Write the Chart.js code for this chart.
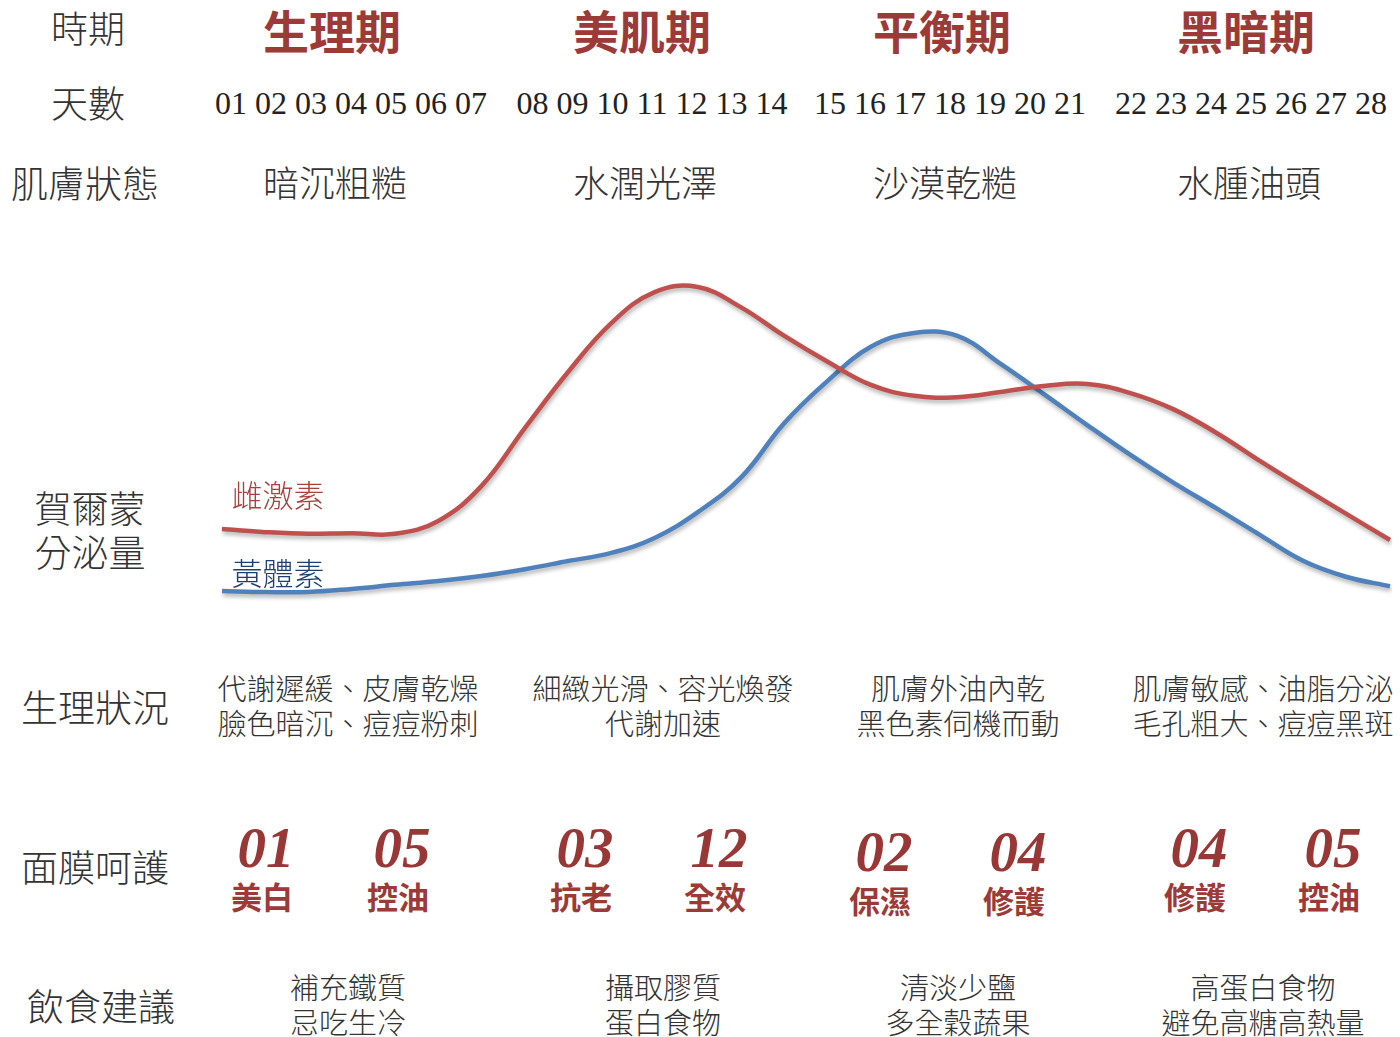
<!DOCTYPE html>
<html>
<head>
<meta charset="utf-8">
<script src="https://cdn.jsdelivr.net/npm/chart.js@4"></script>
<style>
body{margin:0;background:#fff;}
#page{position:relative;width:1400px;height:1037px;background:#fff;overflow:hidden;
font-family:"Noto Sans CJK TC","Noto Sans CJK SC",sans-serif;font-weight:300;color:#333;}
.t{position:absolute;transform:translate(-50%,-50%);white-space:nowrap;line-height:1.2;text-align:center;}
.lab{font-size:37px;}
.phase{font-size:46px;font-weight:700;color:#9c3a38;}
.days{font-family:"Liberation Serif",serif;font-size:32px;font-weight:400;color:#222;}
.skin{font-size:36px;}
.desc{font-size:29px;line-height:35px;}
.num{font-family:"Liberation Serif",serif;font-style:italic;font-weight:700;font-size:57px;color:#983836;}
.mask{font-size:31px;font-weight:700;color:#9c3a38;}
#chartBox{position:absolute;left:212px;top:260px;width:1188px;height:360px;}
</style>
</head>
<body>
<div id="page">
<div id="chartBox"><canvas id="curve"></canvas></div>
</div>
<script>
// row headers
const rowLabels=["時期","天數","肌膚狀態","賀爾蒙\n分泌量","生理狀況","面膜呵護","飲食建議"];
const phases=["生理期","美肌期","平衡期","黑暗期"];
const days=["01","02","03","04","05","06","07","08","09","10","11","12","13","14",
"15","16","17","18","19","20","21","22","23","24","25","26","27","28"];
const skinStates=["暗沉粗糙","水潤光澤","沙漠乾糙","水腫油頭"];
const conditions=["代謝遲緩、皮膚乾燥\n臉色暗沉、痘痘粉刺","細緻光滑、容光煥發\n代謝加速",
"肌膚外油內乾\n黑色素伺機而動","肌膚敏感、油脂分泌\n毛孔粗大、痘痘黑斑"];
const maskNums=[["01","05"],["03","12"],["02","04"],["04","05"]];
const maskNames=[["美白","控油"],["抗老","全效"],["保濕","修護"],["修護","控油"]];
const diet=["補充鐵質\n忌吃生冷","攝取膠質\n蛋白食物","清淡少鹽\n多全穀蔬果","高蛋白食物\n避免高糖高熱量"];

// hormone levels per day (relative)
const estrogen=[23.8,22.9,22.4,22.6,22.4,26.2,36.5,53.5,70,84.4,93.5,95,89,80.6,
73,66.2,63,62.6,64.1,65.9,66.5,63.8,59,52,43.8,35.9,28.2,20.6];
const progesterone=[5.6,5.3,5.3,6.2,7.4,8.5,10,12,14.4,16.8,21.2,28.8,39,55,
67.4,77.4,81.5,80.6,72.4,63.5,54.4,45.6,37.4,29.8,22,14.4,9.7,7];
const seriesNames=["雌激素","黃體素"];

const page=document.getElementById("page");
function put(text,x,y,cls,style){
let d=document.createElement("div");
d.className="t "+cls;
d.innerHTML=text.split("\n").join("<br>");
d.style.left=x+"px";d.style.top=y+"px";
if(style)Object.assign(d.style,style);
page.appendChild(d);
return d;
}

// left headers
const labX=[88,88,85,90,95,95,101];
const labY=[27,102,182,529,706,866,1005];
rowLabels.forEach((s,i)=>put(s,labX[i],labY[i],"lab",i==3?{lineHeight:"44px"}:null));

const colX=[332,642,942,1246];
const dayX=[351,652,950,1251];
const descX=[348,663,958,1263];
const maskX=[[266,402],[585,719],[884,1018],[1199,1333]];
const maskDy=[0,0,4,0];

phases.forEach((p,i)=>{
put(p,colX[i],30,"phase");
put(days.slice(i*7,i*7+7).join(" "),dayX[i],103,"days");
put(skinStates[i],colX[i]+3,182,"skin");
put(conditions[i],descX[i],705,"desc");
maskNums[i].forEach((n,j)=>{
put(n,maskX[i][j],848+maskDy[i],"num");
put(maskNames[i][j],maskX[i][j]-4,896+maskDy[i],"mask");
});
put(diet[i],descX[i],1004,"desc");
});

// series labels
put(seriesNames[0],278,494,"skin",{fontSize:"31px",color:"#a8403e"});
put(seriesNames[1],278,572,"skin",{fontSize:"31px",color:"#1f3f6e"});

const shadow={
id:"shadow",
beforeDatasetDraw(chart){
let c=chart.ctx;c.save();
c.shadowColor="rgba(0,0,0,0.3)";c.shadowBlur=4;c.shadowOffsetX=1;c.shadowOffsetY=3;
},
afterDatasetDraw(chart){chart.ctx.restore();}
};

new Chart(document.getElementById("curve"),{
type:"line",
data:{labels:days,datasets:[
{label:seriesNames[0],data:estrogen,borderColor:"#c0504d",borderWidth:4.5,pointRadius:0,
tension:0.4,fill:false},
{label:seriesNames[1],data:progesterone,borderColor:"#4f81bd",borderWidth:4.5,pointRadius:0,
tension:0.4,fill:false}
]},
options:{
responsive:true,maintainAspectRatio:false,animation:false,
layout:{padding:10},
plugins:{legend:{display:false},tooltip:{enabled:false}},
scales:{
x:{display:false,offset:false},
y:{display:false,min:0,max:100}
}
},
plugins:[shadow]
});
</script>
</body>
</html>
